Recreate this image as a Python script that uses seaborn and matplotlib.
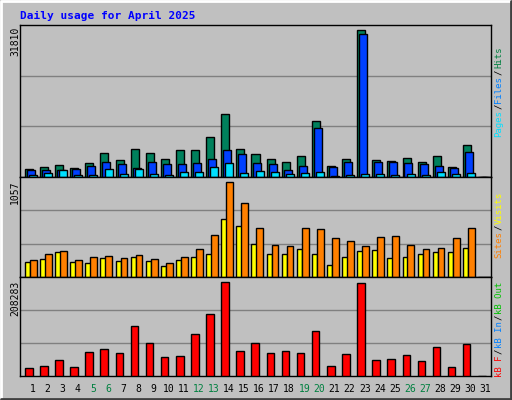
# Webalizer-style daily usage chart
import numpy as np
import seaborn as sns
import matplotlib.pyplot as plt

sns.set_style("white")
plt.rcParams['font.family'] = ['DejaVu Sans Mono', 'DejaVu Sans']

days = list(range(1, 32))
hits = [1800, 2230, 2660, 2020, 3100, 5260, 3740, 6120, 5260, 3960, 5900, 5900, 8710, 13680, 6120,
        5040, 3960, 3310, 4610, 12170, 2450, 3960, 31810, 3740, 3530, 4180, 3310, 4610, 2230, 6980, 0]
files = [1580, 1580, 1580, 1800, 2450, 3310, 2880, 2020, 3310, 2880, 2880, 3100, 3960, 5900, 5040,
         3100, 2880, 1580, 2450, 10660, 2230, 3310, 30960, 3310, 3310, 3100, 2880, 2450, 2020, 5470, 0]
pages = [500, 940, 1580, 500, 500, 1800, 720, 1800, 720, 500, 1150, 1150, 2230, 3100, 940,
         1370, 1150, 720, 940, 1150, 220, 500, 720, 720, 500, 720, 500, 1150, 720, 940, 0]
visits = [164, 199, 279, 164, 153, 210, 176, 221, 176, 118, 187, 221, 256, 645, 565,
          370, 256, 256, 313, 256, 130, 221, 290, 302, 210, 221, 256, 279, 279, 325, 0]
sites = [187, 256, 290, 187, 221, 233, 210, 244, 199, 153, 221, 313, 462, 1057, 817,
         542, 359, 347, 542, 531, 428, 393, 347, 439, 450, 359, 313, 325, 428, 542, 0]
kbytes = [16700, 21300, 35000, 19000, 53200, 60000, 50900, 110200, 73700, 41800, 44100, 92000, 137600,
          208283, 55500, 73700, 50900, 55500, 50900, 98800, 21300, 48600, 206000, 35000, 37200, 46400,
          32700, 64600, 19000, 71400, 0]
weekends = [5, 6, 12, 13, 19, 20, 26, 27]

W, H = 512, 400
fig = plt.figure(figsize=(W / 100, H / 100), dpi=100, facecolor='#C0C0C0')
bg = fig.add_axes([0, 0, 1, 1])
bg.set_xlim(0, W)
bg.set_ylim(H, 0)
bg.axis('off')
bg.plot([1, 1, W - 1], [H - 1, 1, 1], color='white', lw=2)
bg.plot([1, W - 1, W - 1], [H - 1, H - 1, 1], color='#404040', lw=2)


def panel(top, bottom):
    ax = fig.add_axes([20 / W, 1 - bottom / H, 471 / W, (bottom - top) / H])
    ax.set_facecolor('#C0C0C0')
    ax.set_xlim(0.17, 31.36)
    ax.set_xticks([])
    ax.set_yticks([])
    for s in ax.spines.values():
        s.set_color('black')
        s.set_linewidth(1)
    return ax


x = np.array(days)
kw = dict(align='edge', edgecolor='black', linewidth=1, zorder=3)

ax1 = panel(25, 177)
ymax1 = 32800
ax1.set_ylim(0, ymax1)
for f in (1 / 3, 2 / 3):
    ax1.axhline(ymax1 * f, color='#808080', lw=1, zorder=1)
ax1.bar(x - 0.5, hits, width=0.53, color='#00805C', **kw)
ax1.bar(x - 0.37, files, width=0.53, color='#0040FF', **kw)
ax1.bar(x - 0.23, pages, width=0.53, color='#00E0FF', **kw)

ax2 = panel(177, 277)
ymax2 = 1107
ax2.set_ylim(0, ymax2)
for f in (1 / 3, 2 / 3):
    ax2.axhline(ymax2 * f, color='#808080', lw=1, zorder=1)
ax2.bar(x - 0.5, visits, width=0.36, color='#FFFF00', **kw)
ax2.bar(x - 0.17, sites, width=0.45, color='#FF8000', **kw)

ax3 = panel(277, 376)
ymax3 = 218300
ax3.set_ylim(0, ymax3)
for f in (1 / 3, 2 / 3):
    ax3.axhline(ymax3 * f, color='#808080', lw=1, zorder=1)
sns.barplot(x=x - 0.25, y=kbytes, native_scale=True, width=0.5, color='#FF0000',
            saturation=1, edgecolor='black', linewidth=1, ax=ax3, zorder=3)
ax3.set_xlim(0.17, 31.36)
ax3.set_xticks([])
ax3.set_yticks([])

fs = 7
bg.text(20, 16, 'Daily usage for April 2025', color='#0000FF', fontsize=8,
        fontweight='bold', va='center', ha='left')
for txt, y in (('31810', 27), ('1057', 180), ('208283', 281)):
    bg.text(15, y, txt, rotation=90, fontsize=fs, ha='center', va='top', color='black')

for d in days:
    px = 32.5 + 15.1 * (d - 1)
    bg.text(px, 389, str(d), fontsize=fs, ha='center', va='center',
            color='#008040' if d in weekends else 'black')

renderer = fig.canvas.get_renderer()


def side(pieces, y0):
    # stack rotated pieces upward, each starting where the previous one ended
    y = y0
    for txt, col in pieces:
        t = bg.text(499, y, txt, rotation=90, fontsize=6.5, color=col, ha='center', va='bottom')
        ext = t.get_window_extent(renderer)
        y -= ext.height + 1


side([('Pages', '#00E0FF'), ('/', 'black'), ('Files', '#0080FF'), ('/', 'black'),
      ('Hits', '#008040')], 137)
side([('Sites', '#FF8000'), ('/', 'black'), ('Visits', '#FFFF00')], 258)
side([('kB F', '#FF0000'), ('/', 'black'), ('kB In', '#0080FF'), ('/', 'black'),
      ('kB Out', '#00C000')], 377)

fig.savefig('out.png', dpi=100, facecolor='#C0C0C0')
